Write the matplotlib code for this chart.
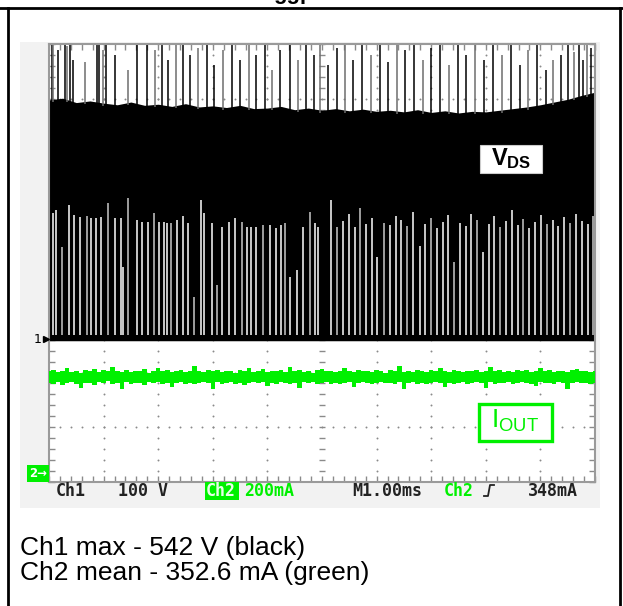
import numpy as np
import matplotlib
matplotlib.use("Agg")
import matplotlib.pyplot as plt
from matplotlib.patches import Rectangle
from matplotlib.lines import Line2D

plt.rcParams['font.family'] = ['Liberation Sans', 'DejaVu Sans']
plt.rcParams['mathtext.fontset'] = 'custom'
plt.rcParams['mathtext.rm'] = 'Liberation Sans'
plt.rcParams['mathtext.bf'] = 'Liberation Sans:bold'

# ---------------- data ----------------
ch1_scale_v = 100.0      # V/div
ch2_scale_ma = 200.0     # mA/div
time_per_div_ms = 1.0

# Ch1 (VDS) upper envelope of the dense switching band
env_t = [0.00, 0.25, 0.50, 0.75, 1.00, 1.25, 1.50, 1.75, 2.00, 2.25,
         2.50, 2.75, 3.00, 3.25, 3.50, 3.75, 4.00, 4.25, 4.50, 4.75,
         5.00, 5.25, 5.50, 5.75, 6.00, 6.25, 6.50, 6.75, 7.00, 7.25,
         7.50, 7.75, 8.00, 8.25, 8.50, 8.75, 9.00, 9.25, 9.50, 9.75, 10.00]
env_v = [437, 440, 432, 435, 431, 428, 433, 427, 429, 425,
         430, 424, 426, 423, 427, 421, 422, 425, 419, 422,
         418, 421, 417, 420, 416, 418, 415, 419, 414, 417,
         413, 416, 415, 418, 421, 424, 428, 433, 438, 445, 451]
band_floor_v = -3

# Ch1 overshoot spikes (time ms, peak V)
spike_t = [0.05, 0.07, 0.16, 0.29, 0.33, 0.38, 0.44, 0.66, 0.88, 0.92,
           0.99, 1.04, 1.21, 1.45, 1.61, 1.79, 1.94, 2.07, 2.18, 2.33,
           2.45, 2.58, 2.73, 2.89, 3.02, 3.19, 3.35, 3.50, 3.66, 3.79,
           3.96, 4.08, 4.23, 4.41, 4.56, 4.71, 4.85, 4.96, 5.11, 5.27,
           5.42, 5.57, 5.73, 5.90, 6.06, 6.21, 6.37, 6.52, 6.68, 6.85,
           7.00, 7.16, 7.33, 7.49, 7.64, 7.80, 7.97, 8.13, 8.30, 8.46,
           8.63, 8.77, 8.94, 9.10, 9.23, 9.38, 9.51, 9.62, 9.71, 9.78,
           9.85, 9.93]
spike_v = [540, 540, 528, 540, 535, 540, 510, 506, 540, 540,
           528, 540, 519, 491, 540, 540, 528, 540, 510, 540,
           540, 519, 532, 540, 500, 528, 540, 510, 540, 519,
           540, 491, 528, 540, 510, 540, 519, 540, 500, 532,
           540, 510, 540, 519, 540, 506, 540, 528, 540, 510,
           532, 540, 500, 540, 519, 540, 510, 540, 519, 540,
           500, 528, 540, 491, 510, 519, 540, 525, 540, 510,
           540, 532]

# Ch1 low-voltage gaps (time ms, top of gap V)
gap_t = [0.07, 0.13, 0.24, 0.37, 0.46, 0.57, 0.70, 0.77, 0.86, 0.95,
         1.08, 1.21, 1.32, 1.36, 1.45, 1.61, 1.70, 1.81, 1.92, 2.01,
         2.11, 2.16, 2.23, 2.34, 2.45, 2.55, 2.66, 2.78, 2.84, 2.99,
         3.08, 3.17, 3.30, 3.41, 3.53, 3.63, 3.70, 3.79, 3.92, 4.05,
         4.16, 4.25, 4.32, 4.41, 4.54, 4.65, 4.78, 4.87, 4.93, 5.16,
         5.27, 5.38, 5.49, 5.60, 5.70, 5.81, 5.92, 6.01, 6.14, 6.25,
         6.36, 6.45, 6.56, 6.67, 6.79, 6.89, 7.00, 7.11, 7.22, 7.31,
         7.42, 7.53, 7.64, 7.73, 7.84, 7.95, 8.06, 8.15, 8.26, 8.37,
         8.48, 8.59, 8.68, 8.79, 8.90, 9.01, 9.12, 9.23, 9.32, 9.43,
         9.54, 9.65, 9.76, 9.87, 9.96]
gap_top_v = [230, 236, 168, 245, 226, 223, 225, 221, 221, 223,
             249, 221, 221, 132, 258, 217, 214, 214, 230, 214,
             214, 212, 212, 217, 225, 212, 77, 254, 230, 212,
             99, 205, 214, 221, 214, 205, 205, 205, 208, 208,
             203, 208, 212, 113, 126, 205, 232, 212, 205, 254,
             205, 215, 228, 205, 240, 210, 221, 150, 212, 208,
             225, 218, 206, 232, 170, 210, 222, 203, 214, 226,
             140, 212, 207, 229, 218, 160, 210, 224, 205, 215,
             236, 209, 220, 203, 214, 227, 210, 218, 206, 223,
             212, 228, 215, 210, 225]
gap_bottom_v = 8

# Ch2 (IOUT) noise band, upper and lower envelope in mA
iout_hi = [372, 378, 369, 375, 386, 371, 374, 368, 377, 373,
           380, 370, 376, 372, 389, 374, 369, 377, 371, 375,
           373, 379, 368, 374, 384, 372, 376, 370, 375, 378,
           371, 374, 391, 373, 369, 376, 372, 378, 370, 375,
           374, 368, 377, 373, 385, 371, 375, 379, 369, 374,
           372, 376, 370, 388, 373, 377, 371, 374, 368, 376,
           379, 372, 375, 370, 374, 386, 373, 369, 377, 372,
           375, 371, 378, 374, 368, 376, 373, 390, 371, 375,
           370, 377, 373, 369, 376, 372, 384, 374, 371, 378,
           373, 369, 375, 372, 377, 370, 374, 387, 372, 376,
           371, 375, 369, 378, 373, 376, 370, 374, 385, 372,
           377, 371, 375, 373, 369, 376, 380, 372, 374, 371,
           375]
iout_lo = [330, 326, 333, 322, 329, 335, 327, 312, 331, 328,
           324, 332, 329, 336, 325, 330, 308, 333, 327, 331,
           329, 323, 334, 328, 332, 326, 331, 315, 329, 333,
           327, 331, 325, 329, 334, 328, 306, 332, 326, 330,
           333, 327, 331, 324, 329, 335, 328, 332, 318, 330,
           326, 333, 329, 327, 331, 310, 334, 328, 332, 325,
           330, 334, 327, 331, 326, 329, 333, 314, 328, 332,
           329, 325, 331, 335, 328, 330, 326, 332, 309, 329,
           333, 327, 331, 325, 330, 334, 328, 316, 331, 327,
           330, 334, 326, 329, 332, 328, 311, 333, 327, 330,
           328, 332, 326, 331, 335, 329, 327, 320, 332, 328,
           331, 326, 333, 329, 307, 330, 334, 328, 331, 327,
           329]
iout_t = np.linspace(0, 10, len(iout_hi))

status_items = ["Ch1", "100 V", "Ch2", "200mA", "M1.00ms", "Ch2", "348mA"]
note_lines = ["Ch1 max - 542 V (black)", "Ch2 mean - 352.6 mA (green)"]
top_caption = "ggp"

# ---------------- layout ----------------
W, H = 623, 606
GREEN = '#00f000'
GRID = '#8a8a8a'
ch1_ground_div = -1.39
ch2_ground_div = -3.84

def fx(px):
    return px / W

def fy(py):
    return 1 - py / H

def ch1(v):
    return ch1_ground_div + np.asarray(v, float) / ch1_scale_v

def ch2(ma):
    return ch2_ground_div + np.asarray(ma, float) / ch2_scale_ma

fig = plt.figure(figsize=(W / 100, H / 100), dpi=100)
fig.patch.set_facecolor('white')

# scope screen grey background
fig.patches.append(Rectangle((fx(20), fy(508)), 580 / W, 466 / H,
                             transform=fig.transFigure, facecolor='#f2f2f2',
                             edgecolor='none', zorder=-1))

ax = fig.add_axes([fx(49), fy(482), 546 / W, 438 / H])
ax.set_zorder(1)
ax.set_facecolor('white')
ax.set_xlim(0, 10)
ax.set_ylim(-4, 4)

# graticule
for xg in range(1, 10):
    if xg == 5:
        continue
    ys = np.arange(-4, 4.001, 0.2)
    ax.plot(np.full_like(ys, xg), ys, ls='none', marker='o', ms=1.4,
            mec='none', mfc=GRID, zorder=1)
for yg in range(-3, 4):
    if yg == 0:
        continue
    xs = np.arange(0, 10.001, 0.2)
    ax.plot(xs, np.full_like(xs, yg), ls='none', marker='o', ms=1.4,
            mec='none', mfc=GRID, zorder=1)
xs = np.arange(0, 10.001, 0.2)
ax.plot(xs, np.zeros_like(xs), ls='none', marker='|', ms=5, mew=1,
        color=GRID, zorder=1)
ys = np.arange(-4, 4.001, 0.2)
ax.plot(np.full_like(ys, 5), ys, ls='none', marker='_', ms=5, mew=1,
        color=GRID, zorder=1)

ax.set_xticks(np.arange(0, 10.001, 1))
ax.set_xticks(np.arange(0, 10.001, 0.2), minor=True)
ax.set_yticks(np.arange(-4, 4.001, 1))
ax.set_yticks(np.arange(-4, 4.001, 0.2), minor=True)
ax.tick_params(which='both', direction='in', length=4, width=1, color=GRID,
               top=True, right=True, labelbottom=False, labelleft=False)
for s in ax.spines.values():
    s.set_color('#9a9a9a')
    s.set_linewidth(1.5)

# Ch1 waveform
ax.fill_between(env_t, ch1(band_floor_v), ch1(env_v), color='black',
                lw=0, zorder=2)
env_at_spike = np.interp(spike_t, env_t, env_v)
for i, (t, v, e) in enumerate(zip(spike_t, spike_v, env_at_spike)):
    col = '#6e6e6e' if i % 3 == 1 else 'black'
    ax.vlines(t, ch1(e - 5), ch1(v), color=col, lw=1.1, zorder=2.5)
for i, (t, v) in enumerate(zip(gap_t, gap_top_v)):
    col = '#c8c8c8' if i % 4 == 2 else 'white'
    ax.vlines(t, ch1(gap_bottom_v), ch1(v), color=col, lw=1.1, zorder=3)

# Ch2 waveform
ax.fill_between(iout_t, ch2(iout_lo), ch2(iout_hi), step='mid', color=GREEN,
                lw=0, zorder=3)

# channel ground markers
ax.text(-0.14, ch1_ground_div, '1', ha='right', va='center', fontsize=9,
        color='black', family='DejaVu Sans', zorder=5, clip_on=False)
ax.plot([-0.06], [ch1_ground_div], marker='>', ms=4.5, color='black',
        clip_on=False, zorder=5)
ax.text(-0.04, ch2_ground_div, '2\u2192', ha='right', va='center',
        fontsize=8.5, color='white', weight='bold', family='DejaVu Sans',
        bbox=dict(boxstyle='square,pad=0.15', fc=GREEN, ec='none'),
        zorder=5, clip_on=False)

# labels on screen
fig.patches.append(Rectangle((fx(480), fy(173)), 62 / W, 28 / H,
                             transform=fig.transFigure, facecolor='white',
                             edgecolor='#cccccc', lw=0.8, zorder=5))
fig.text(fx(511), fy(159), r'$\mathbf{V_{DS}}$', ha='center', va='center',
         fontsize=17, color='black', zorder=6)
fig.patches.append(Rectangle((fx(479), fy(441)), 73 / W, 37 / H,
                             transform=fig.transFigure, facecolor='white',
                             edgecolor=GREEN, lw=2.4, zorder=5))
fig.text(fx(515), fy(421), r'$\mathrm{I_{OUT}}$', ha='center', va='center',
         fontsize=19, color=GREEN, zorder=6)

# status bar
sb_y = fy(496)
mono = dict(family='DejaVu Sans Mono', weight='bold', fontsize=12,
            va='baseline')
fig.text(fx(56), sb_y, status_items[0], color='#222222', **mono)
fig.text(fx(118), sb_y, status_items[1], color='#222222', **mono)
fig.patches.append(Rectangle((fx(205), fy(500)), 34 / W, 18 / H,
                             transform=fig.transFigure, facecolor=GREEN,
                             edgecolor='none', zorder=3))
fig.text(fx(206), sb_y, status_items[2], color='#e8ffe8', zorder=4, **mono)
fig.text(fx(244), sb_y, status_items[3], color=GREEN, **mono)
fig.text(fx(352), sb_y, status_items[4], color='#222222', **mono)
fig.text(fx(444), sb_y, status_items[5], color=GREEN, **mono)
fig.lines.append(Line2D([fx(484), fx(488), fx(490), fx(494)],
                        [fy(496), fy(496), fy(485), fy(485)],
                        transform=fig.transFigure, color='#222222', lw=1.3))
fig.text(fx(528), sb_y, status_items[6], color='#222222', **mono)

# notes
fig.text(fx(20), fy(555), note_lines[0], fontsize=19, color='black',
         va='baseline')
fig.text(fx(20), fy(580), note_lines[1], fontsize=19, color='black',
         va='baseline')

# clipped caption above the frame (only descenders visible)
fig.text(fx(293), fy(-0.5), top_caption, fontsize=16, weight='bold',
         ha='center', va='baseline', color='black')

# outer frame
for xs_, ys_ in [([0, W], [7.5, 7.5]), ([7.5, 7.5], [7.5, H]),
                 ([619.5, 619.5], [7.5, H])]:
    fig.lines.append(Line2D([fx(v) for v in xs_], [fy(v) for v in ys_],
                            transform=fig.transFigure, color='black', lw=2))

fig.savefig('out.png', dpi=100)
